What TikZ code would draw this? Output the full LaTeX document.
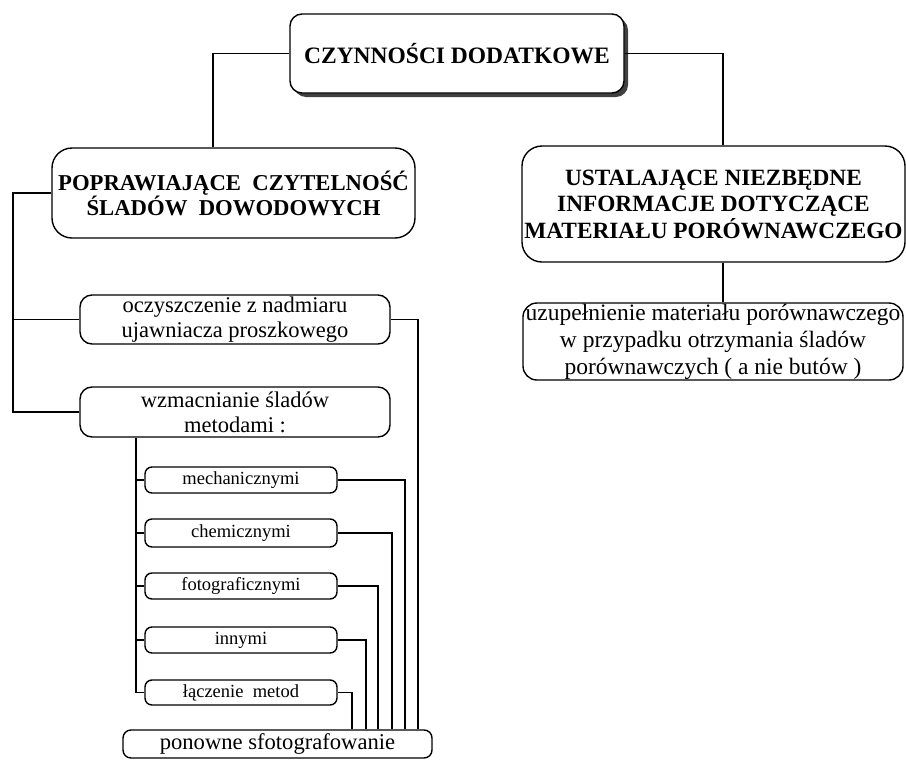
\documentclass[tikz,border=0pt]{standalone}
\usepackage{fontspec}
\setmainfont{Liberation Serif}
\usetikzlibrary{shadows}
\begin{document}
\begin{tikzpicture}[x=1pt,y=-1pt,line width=1.4pt,
  box/.style={draw,rounded corners=#1,align=center,inner sep=0pt,fill=white},
  box/.default=8pt,
  mid/.style={font=\fontsize{22.5}{25}\selectfont},
  small/.style={font=\fontsize{18.5}{20}\selectfont},
  conn/.style={line width=1.3pt}]
\useasboundingbox (0,0) rectangle (906,761);
% nodes
\node[box=12pt,minimum width=334pt,minimum height=79pt,
  drop shadow={shadow xshift=4pt,shadow yshift=-4pt,fill=black!75,opacity=1},
  font=\bfseries\fontsize{23.5}{28}\selectfont] (top) at (457,53.5) {CZYNNOŚCI DODATKOWE};
\node[box=20pt,minimum width=363pt,minimum height=90pt,font=\bfseries\fontsize{22.7}{25}\selectfont] (left) at (233.5,193)
  {POPRAWIAJĄCE\ \ CZYTELNOŚĆ\\ŚLADÓW\ \ DOWODOWYCH};
\node[box=20pt,minimum width=383pt,minimum height=116pt,font=\bfseries\fontsize{23.3}{26.5}\selectfont] (right) at (713.5,204)
  {USTALAJĄCE NIEZBĘDNE\\INFORMACJE DOTYCZĄCE\\MATERIAŁU PORÓWNAWCZEGO};
\node[box=14pt,minimum width=380pt,minimum height=77pt,font=\fontsize{23.5}{27}\selectfont] (rlow) at (713,341.5)
  {uzupełnienie materiału porównawczego\\w przypadku otrzymania śladów\\porównawczych ( a nie butów )};
\node[box=12pt,minimum width=310pt,minimum height=49pt,mid] (ocz) at (235,319.5)
  {oczyszczenie z nadmiaru\\ujawniacza proszkowego};
\node[box=12pt,minimum width=310pt,minimum height=50pt,mid] (wzm) at (235,412)
  {wzmacnianie śladów\\metodami :};
\node[box=7pt,minimum width=192pt,minimum height=26pt,small] (mech) at (241,480) {mechanicznymi};
\node[box=7pt,minimum width=192pt,minimum height=28pt,small] (chem) at (241,533) {chemicznymi};
\node[box=7pt,minimum width=192pt,minimum height=26pt,small] (foto) at (241,586) {fotograficznymi};
\node[box=7pt,minimum width=192pt,minimum height=26pt,small] (inn) at (241,640) {innymi};
\node[box=7pt,minimum width=192pt,minimum height=25pt,small] (lacz) at (241,692.5) {łączenie\ \ metod};
\node[box=8pt,minimum width=309pt,minimum height=28pt,font=\fontsize{22.6}{25}\selectfont] (pon) at (277.5,744)
  {ponowne sfotografowanie};
% helper columns
\coordinate (lx) at (213,0);
\coordinate (rx) at (723,0);
\coordinate (lcol) at (13,0);
\coordinate (mcol) at (136,0);
\coordinate (c1) at (418,0);
\coordinate (c2) at (405,0);
\coordinate (c3) at (392,0);
\coordinate (c4) at (378,0);
\coordinate (c5) at (366,0);
\coordinate (c6) at (352,0);
% connectors
\draw[conn] (top.west) -| (left.north -| lx);
\draw[conn] (top.east) -| (right.north -| rx);
\draw[conn] (right.south -| rx) -- (rlow.north -| rx);
\draw[conn] (left.west) -- (left.west -| lcol) -- (wzm.west -| lcol) -- (wzm.west);
\draw[conn] (ocz.west -| lcol) -- (ocz.west);
\draw[conn] (wzm.south -| mcol) -- (lacz.west -| mcol) -- (lacz.west);
\draw[conn] (mech.west -| mcol) -- (mech.west);
\draw[conn] (chem.west -| mcol) -- (chem.west);
\draw[conn] (foto.west -| mcol) -- (foto.west);
\draw[conn] (inn.west -| mcol) -- (inn.west);
\draw[conn] (ocz.east) -| (pon.north -| c1);
\draw[conn] (mech.east) -| (pon.north -| c2);
\draw[conn] (chem.east) -| (pon.north -| c3);
\draw[conn] (foto.east) -| (pon.north -| c4);
\draw[conn] (inn.east) -| (pon.north -| c5);
\draw[conn] (lacz.east) -| (pon.north -| c6);
\end{tikzpicture}
\end{document}
